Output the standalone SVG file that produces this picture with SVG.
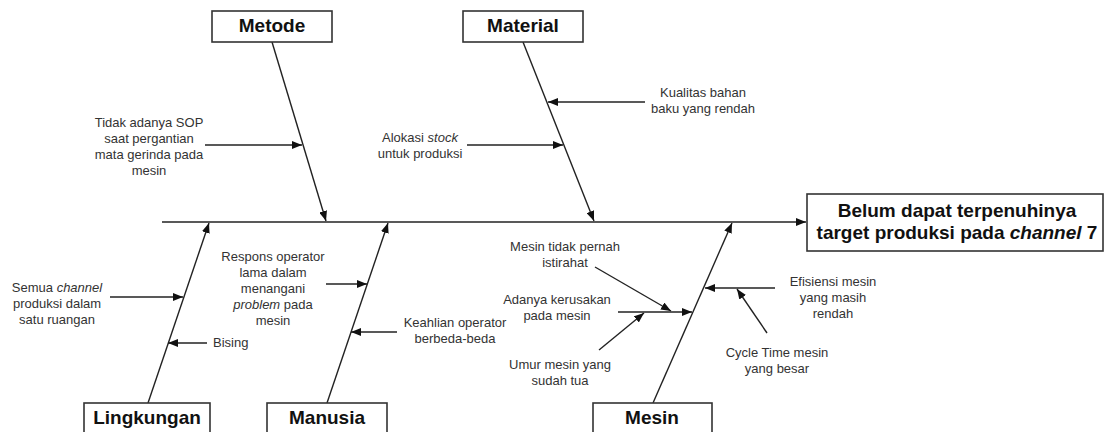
<svg xmlns="http://www.w3.org/2000/svg" width="1105" height="432" viewBox="0 0 1105 432">
<defs>
<marker id="ah" markerUnits="userSpaceOnUse" markerWidth="10" markerHeight="8" refX="10" refY="4" orient="auto">
<path d="M0,0 L10,4 L0,8 z" fill="#111"/>
</marker>
<style>
.ln{stroke:#222;stroke-width:1.4;fill:none;marker-end:url(#ah)}
.box{fill:#fff;stroke:#333;stroke-width:1.6}
.t{font-family:"Liberation Sans",Arial,sans-serif;font-size:13px;fill:#333;text-anchor:middle}
.h{font-family:"Liberation Sans",Arial,sans-serif;font-size:19px;font-weight:bold;fill:#111;text-anchor:middle}
</style>
</defs>
<rect width="1105" height="432" fill="#fff"/>
<g id="connectors">
<line class="ln" x1="162" y1="222" x2="806" y2="222"/>
<line class="ln" x1="272" y1="42" x2="326" y2="221"/>
<line class="ln" x1="523" y1="42" x2="594" y2="221"/>
<line class="ln" x1="148" y1="403" x2="209" y2="223"/>
<line class="ln" x1="327" y1="403" x2="388" y2="223"/>
<line class="ln" x1="653" y1="403" x2="732" y2="223"/>
<line class="ln" x1="205" y1="145" x2="302" y2="145"/>
<line class="ln" x1="645" y1="102" x2="548" y2="102"/>
<line class="ln" x1="467" y1="145" x2="563" y2="145"/>
<line class="ln" x1="110" y1="297" x2="183" y2="297"/>
<line class="ln" x1="207" y1="343" x2="168" y2="343"/>
<line class="ln" x1="326" y1="284" x2="367" y2="284"/>
<line class="ln" x1="397" y1="332" x2="351" y2="332"/>
<line class="ln" x1="618" y1="312" x2="692" y2="312"/>
<line class="ln" x1="595" y1="267" x2="671" y2="311"/>
<line class="ln" x1="599" y1="350" x2="644" y2="313"/>
<line class="ln" x1="775" y1="288" x2="705" y2="288"/>
<line class="ln" x1="767" y1="333" x2="737" y2="289"/>
</g>
<g id="effect">
<rect class="box" x="807" y="194" width="296" height="57"/>
<text class="h" x="957" y="217">Belum dapat terpenuhinya</text>
<text class="h" x="957" y="239">target produksi pada <tspan font-style="italic">channel</tspan> 7</text>
</g>
<g id="metode">
<rect class="box" x="212" y="11" width="120" height="31"/>
<text class="h" x="272" y="32">Metode</text>
</g>
<g id="material">
<rect class="box" x="463" y="11" width="120" height="31"/>
<text class="h" x="523" y="32">Material</text>
</g>
<g id="lingkungan">
<rect class="box" x="84" y="403" width="126" height="40"/>
<text class="h" x="147" y="424">Lingkungan</text>
</g>
<g id="manusia">
<rect class="box" x="267" y="403" width="120" height="40"/>
<text class="h" x="327" y="424">Manusia</text>
</g>
<g id="mesin">
<rect class="box" x="593" y="403" width="119" height="40"/>
<text class="h" x="652" y="424">Mesin</text>
</g>
<g id="cause-sop">
<text class="t" x="149" y="127">Tidak adanya SOP</text>
<text class="t" x="149" y="143">saat pergantian</text>
<text class="t" x="149" y="159">mata gerinda pada</text>
<text class="t" x="149" y="175">mesin</text>
</g>
<g id="cause-kualitas">
<text class="t" x="703" y="97">Kualitas bahan</text>
<text class="t" x="703" y="113">baku yang rendah</text>
</g>
<g id="cause-alokasi">
<text class="t" x="420" y="142">Alokasi <tspan font-style="italic">stock</tspan></text>
<text class="t" x="420" y="158">untuk produksi</text>
</g>
<g id="cause-semua">
<text class="t" x="57" y="292">Semua <tspan font-style="italic">channel</tspan></text>
<text class="t" x="57" y="308">produksi dalam</text>
<text class="t" x="57" y="324">satu ruangan</text>
</g>
<g id="cause-bising">
<text class="t" x="213" y="347" style="text-anchor:start">Bising</text>
</g>
<g id="cause-respons">
<text class="t" x="273" y="261">Respons operator</text>
<text class="t" x="273" y="277">lama dalam</text>
<text class="t" x="273" y="293">menangani</text>
<text class="t" x="273" y="309"><tspan font-style="italic">problem</tspan> pada</text>
<text class="t" x="273" y="325">mesin</text>
</g>
<g id="cause-keahlian">
<text class="t" x="455" y="327">Keahlian operator</text>
<text class="t" x="455" y="343">berbeda-beda</text>
</g>
<g id="cause-istirahat">
<text class="t" x="565" y="251">Mesin tidak pernah</text>
<text class="t" x="565" y="267">istirahat</text>
</g>
<g id="cause-kerusakan">
<text class="t" x="557" y="304">Adanya kerusakan</text>
<text class="t" x="557" y="320">pada mesin</text>
</g>
<g id="cause-umur">
<text class="t" x="560" y="369">Umur mesin yang</text>
<text class="t" x="560" y="385">sudah tua</text>
</g>
<g id="cause-efisiensi">
<text class="t" x="833" y="286">Efisiensi mesin</text>
<text class="t" x="833" y="302">yang masih</text>
<text class="t" x="833" y="318">rendah</text>
</g>
<g id="cause-cycle">
<text class="t" x="777" y="357">Cycle Time mesin</text>
<text class="t" x="777" y="373">yang besar</text>
</g>
</svg>
